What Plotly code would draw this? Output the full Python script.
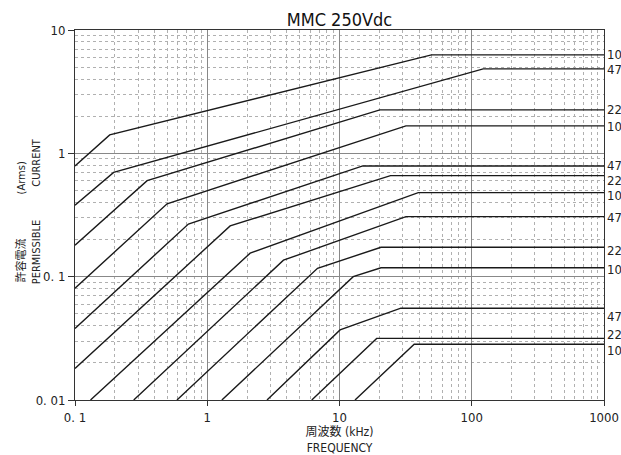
"""Permissible current vs frequency chart for MMC 250Vdc capacitors"""

import math
import plotly.graph_objects as go

# capacitance labels shown on the right, top to bottom
cap_labels = ['10', '47', '22', '10', '47', '22', '10', '47', '22', '10', '47', '22', '10']

# frequency breakpoints (kHz) of each curve
freq_points = [
    [0.1, 0.183, 49.6, 1000],
    [0.1, 0.196, 122, 1000],
    [0.1, 0.351, 20.2, 1000],
    [0.1, 0.497, 31.8, 1000],
    [0.1, 0.72, 15.0, 1000],
    [0.1, 1.49, 24.3, 1000],
    [0.131, 2.11, 39.4, 1000],
    [0.278, 3.77, 31.8, 1000],
    [0.59, 6.82, 20.6, 1000],
    [1.29, 12.7, 20.6, 1000],
    [2.83, 10.1, 29.1, 1000],
    [6.17, 19.1, 1000],
    [13.1, 36.7, 1000],
]

# permissible current (Arms) at those breakpoints
current_points = [
    [0.79, 1.41, 6.28, 6.28],
    [0.38, 0.70, 4.84, 4.84],
    [0.18, 0.60, 2.25, 2.25],
    [0.0805, 0.39, 1.67, 1.67],
    [0.038, 0.267, 0.79, 0.79],
    [0.018, 0.258, 0.66, 0.66],
    [0.01, 0.155, 0.48, 0.48],
    [0.01, 0.136, 0.307, 0.307],
    [0.01, 0.117, 0.173, 0.173],
    [0.01, 0.1, 0.118, 0.118],
    [0.01, 0.037, 0.0555, 0.0555],
    [0.01, 0.0316, 0.0316],
    [0.01, 0.0283, 0.0283],
]

x_tick_vals = [0.1, 1, 10, 100, 1000]
x_tick_text = ['0. 1', '1', '10', '100', '1000']
y_tick_vals = [0.01, 0.1, 1, 10]
y_tick_text = ['0. 01', '0. 1', '1', '10']

FONT = 'DejaVu Sans Condensed, Liberation Sans Narrow, Noto Sans CJK JP'

# small vertical nudges (px, + is up) so close labels do not collide
label_nudge = [0, -1, 0, -1, 0, -5, -3, -1, -3, -2, -8, 4, -6]

fig = go.Figure()

for freqs, currents in zip(freq_points, current_points):
    fig.add_trace(go.Scatter(
        x=freqs,
        y=currents,
        mode='lines',
        line=dict(color='#1a1a1a', width=1.4),
        showlegend=False
    ))

# labels at the right end of each flat section (log axis -> log10 position)
for label, currents, nudge in zip(cap_labels, current_points, label_nudge):
    fig.add_annotation(
        x=1, xref='paper',
        y=math.log10(currents[-1]), yref='y', yanchor='middle',
        xanchor='left', xshift=1, yshift=nudge,
        text=label, showarrow=False,
        font=dict(family=FONT, size=13, color='#222222')
    )

# vertical axis title, two rotated lines
fig.add_annotation(
    x=0, xref='paper', xshift=-54, y=0.48, yref='paper',
    text='許容電流　　　　(Arms)', textangle=-90, showarrow=False,
    xanchor='center', yanchor='middle',
    font=dict(family=FONT, size=11, color='#222222')
)
fig.add_annotation(
    x=0, xref='paper', xshift=-39, y=0.51, yref='paper',
    text='PERMISSIBLE　　　CURRENT', textangle=-90, showarrow=False,
    xanchor='center', yanchor='middle',
    font=dict(family=FONT, size=11, color='#222222')
)

grid_minor = dict(showgrid=True, gridcolor='#b0b0b0', griddash='dot', gridwidth=1,
                  dtick='D1', ticks='')

fig.update_xaxes(
    type='log', range=[-1, 3], automargin=False,
    tickvals=x_tick_vals, ticktext=x_tick_text,
    ticks='outside', ticklen=5, tickcolor='#333333',
    showgrid=True, gridcolor='#888888', gridwidth=1,
    minor=grid_minor,
    showline=True, linecolor='#333333', linewidth=1, mirror=True,
    title=dict(text='周波数 (kHz)<br>FREQUENCY', font=dict(family=FONT, size=12), standoff=8),
    tickfont=dict(family=FONT, size=13, color='#222222')
)

fig.update_yaxes(
    type='log', range=[-2, 1], automargin=False,
    tickvals=y_tick_vals, ticktext=y_tick_text,
    ticks='outside', ticklen=6, tickcolor='#333333',
    showgrid=True, gridcolor='#888888', gridwidth=1,
    minor=grid_minor,
    showline=True, linecolor='#333333', linewidth=1, mirror=True,
    tickfont=dict(family=FONT, size=13, color='#222222')
)

fig.update_layout(
    width=621, height=455,
    margin=dict(l=75, r=17, t=30, b=55),
    paper_bgcolor='white', plot_bgcolor='white',
    title=dict(text='MMC 250Vdc', xref='paper', x=0.5, xanchor='center',
               y=0.956, yanchor='middle',
               font=dict(family=FONT, size=18, color='#111111')),
    font=dict(family=FONT, color='#222222')
)

# drop the default page margin so the figure fills the window exactly
fig.write_html('out.html',
               config={'displayModeBar': False},
               post_script="document.body.style.margin='0';document.body.style.overflow='hidden';")
